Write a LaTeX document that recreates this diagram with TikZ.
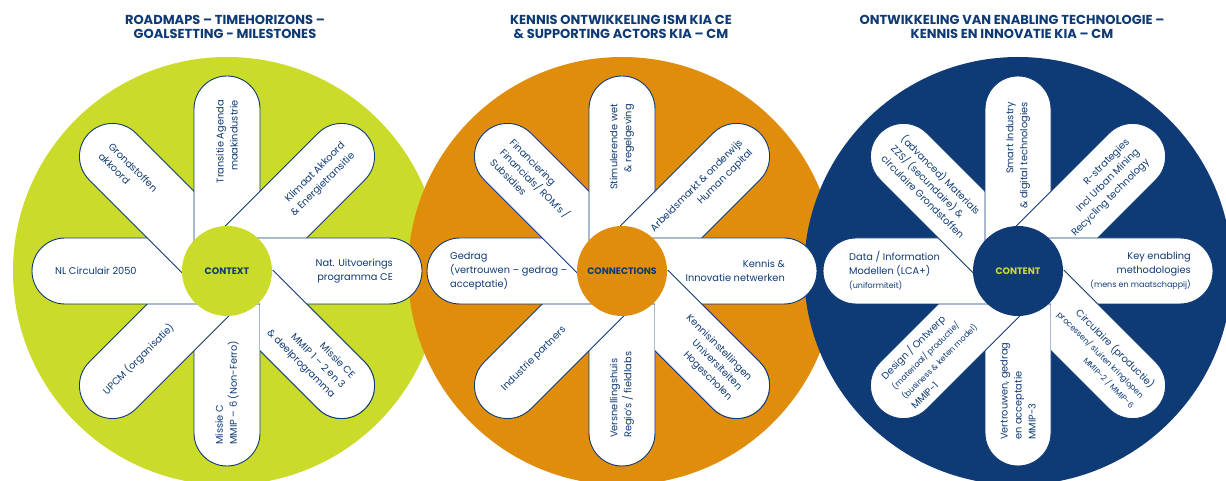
\documentclass[tikz,border=0pt]{standalone}
\usepackage{fontspec}
\setmainfont{Poppins}
\definecolor{limec}{RGB}{203,219,42}
\definecolor{orangec}{RGB}{224,141,12}
\definecolor{navyc}{RGB}{14,58,117}
\newcommand\pfont{\fontsize{9.8}{14}\selectfont}
\newcommand\sfnt{\fontsize{8}{11.5}\selectfont}
\tikzset{
  petal/.style={fill=white, draw=navyc, line width=0.9pt},
  ptext/.style={text=navyc, font=\pfont, inner sep=0pt},
  head/.style={text=navyc, font=\fontsize{13}{14.5}\selectfont\bfseries, align=center, inner sep=0pt},
  clabel/.style={font=\fontsize{9.4}{10}\selectfont\bfseries, inner sep=0pt}
}
\newcommand\petalpath[2]{%
  \path[petal, shift={(#1)}, rotate=#2] (0,-33) -- (162,-33) arc[start angle=-90, end angle=90, radius=33] -- (0,33) -- cycle;}
\newcommand\flower[2]{%
  \foreach \a in {-45,-90,-135,180,135,90,45,0} {\petalpath{#1}{\a}}
  \begin{scope}
    \clip ([shift={(33,0)}]#1) rectangle ([shift={(300,-300)}]#1);
    \petalpath{#1}{-45}
  \end{scope}
  \fill[#2] (#1) circle[radius=45];}
\newcommand\outtext[5]{\node[ptext, rotate=#3, anchor=east, align=right] (#1) at ([shift={(#3:#4)}]#2) {#5};}
\newcommand\intext[5]{\node[ptext, rotate=#3+180, anchor=west, align=left] (#1) at ([shift={(#3:#4)}]#2) {#5};}
\begin{document}
\begin{tikzpicture}[x=1pt,y=1pt]
\useasboundingbox (0,0) rectangle (1226,481);
\clip (0,0) rectangle (1226,481);
\fill[white] (0,0) rectangle (1226,481);
\coordinate (c1) at (227,210);
\coordinate (c2) at (622,210);
\coordinate (c3) at (1018,210);
\fill[limec] (c1) circle[radius=214];
\fill[orangec] (c2) circle[radius=214];
\fill[navyc] (c3) circle[radius=214];
\flower{c1}{limec}
\flower{c2}{orangec}
\flower{c3}{navyc}
% headings
\node[head] (h1) at (225,454) {ROADMAPS – TIMEHORIZONS –\\GOALSETTING - MILESTONES};
\node[head] (h2) at (621,454) {KENNIS ONTWIKKELING ISM KIA CE\\\& SUPPORTING ACTORS KIA – CM};
\node[head] (h3) at (1012,454) {ONTWIKKELING VAN ENABLING TECHNOLOGIE –\\KENNIS EN INNOVATIE KIA – CM};
% centre labels
\node[clabel, text=navyc] (k1) at (c1) {CONTEXT};
\node[clabel, text=navyc] (k2) at (c2) {CONNECTIONS};
\node[clabel, text=limec] (k3) at (c3) {CONTENT};
% lime flower
\outtext{a90}{c1}{90}{171}{Transitie Agenda\\maakindustrie}
\outtext{a45}{c1}{45}{172}{Klimaat Akkoord\\\& Energietransitie}
\outtext{a0}{c1}{0}{166}{Nat. Uitvoerings\\programma CE}
\outtext{a315}{c1}{-45}{164}{Missie CE\\MMIP 1 – 2 en 3\\\& deelprogramma}
\intext{a270}{c1}{270}{174}{Missie C\\MMIP – 6 (Non-Ferro)}
\intext{a225}{c1}{225}{173}{UPCM (organisatie)}
\intext{a180}{c1}{180}{172}{NL Circulair 2050}
\intext{a135}{c1}{135}{172}{Grondstoffen\\akkoord}
% orange flower
\outtext{b90}{c2}{90}{167}{Stimulerende wet\\\& regelgeving}
\outtext{b45}{c2}{45}{176}{Arbeidsmarkt \& onderwijs\\Human capital}
\outtext{b0}{c2}{0}{163}{Kennis \&\\Innovatie netwerken}
\outtext{b315}{c2}{-45}{167}{Kennisinstellingen\\Universiteiten\\Hogescholen}
\intext{b270}{c2}{270}{167}{Versnellingshuis\\Regio’s / fieldlabs}
\intext{b225}{c2}{225}{168}{Industrie partners}
\intext{b180}{c2}{180}{172}{Gedrag\\(vertrouwen – gedrag –\\acceptatie)}
\intext{b135}{c2}{135}{170}{Financiering\\Financials/ ROM’s /\\Subsidies}
% navy flower
\outtext{d90}{c3}{90}{169}{Smart Industry\\\& digital technologies}
\outtext{d45}{c3}{45}{170}{R-strategies\\Incl Urban Mining\\Recycling technology}
\outtext{d0}{c3}{0}{173}{Key enabling\\methodologies\\{\sfnt (mens en maatschappij)}}
\outtext{d315}{c3}{-45}{177}{Circulaire (productie)\\{\sfnt processen/ sluiten kringlopen}\\{\sfnt MMIP-2 / MMIP-6}}
\intext{d270}{c3}{270}{169}{Vertrouwen, gedrag\\en acceptatie\\MMIP-3}
\intext{d225}{c3}{225}{171}{Design / Ontwerp\\{\sfnt (materiaal/ productie/}\\{\sfnt (business \& keten model)}\\MMIP-1}
\intext{d180}{c3}{180}{169}{Data / Information\\Modellen (LCA+)\\{\sfnt (uniformiteit)}}
\intext{d135}{c3}{135}{176}{(advanced) Materials\\ZZS/ (secundaire) \&\\circulaire Grondstoffen}
\end{tikzpicture}
\end{document}
